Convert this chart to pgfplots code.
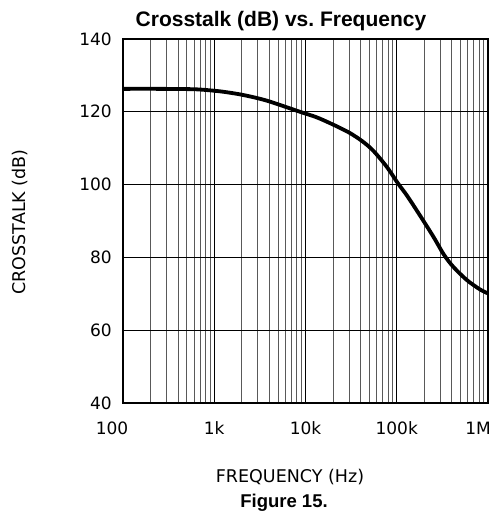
\documentclass[border=0pt]{standalone}
\usepackage{pgfplots}
\pgfplotsset{compat=1.18}
\usepackage{fontspec}
\setmainfont{DejaVu Sans}
\newfontfamily\arialfont{Liberation Sans}
\pgfplotstableread{
f db
100 126.3
250 126.3
590 126.2
890 125.9
1260 125.5
1900 124.8
2800 123.9
4070 122.8
8700 120.0
13200 118.5
20000 116.5
30000 114.3
42000 111.9
55300 109.3
77600 104.9
104000 100.2
128500 97.1
179900 91.5
251800 85.7
329600 80.7
416900 77.4
584800 73.8
816600 71.2
1000000 70.1
}\crosstalk
\begin{document}
\begin{tikzpicture}[x=1pt,y=1pt]
\useasboundingbox (0,0) rectangle (500,516);
\begin{axis}[
  at={(123pt,113pt)}, anchor=south west,
  width=365pt, height=364pt, scale only axis,
  xmode=log, log basis x=10,
  xmin=100, xmax=1000000, ymin=40, ymax=140,
  xtick={100,1000,10000,100000,1000000},
  xticklabels={\makebox[0pt]{\hspace*{-22pt}100},1k,10k,100k,\makebox[0pt]{\hspace*{-20pt}1M}},
  minor xtick={200,300,400,500,600,700,800,900,2000,3000,4000,5000,6000,7000,8000,9000,20000,30000,40000,50000,60000,70000,80000,90000,200000,300000,400000,500000,600000,700000,800000,900000},
  ytick={40,60,80,100,120,140},
  yticklabels={40,60,80,100,120,140},
  major tick length=0pt, minor tick length=0pt,
  xmajorgrids, xminorgrids, ymajorgrids,
  major grid style={black, line width=0.9pt},
  minor grid style={black!65, line width=0.8pt},
  axis line style={line width=1.6pt},
  tick label style={font=\fontsize{17}{17}\selectfont},
  xticklabel style={anchor=base, inner sep=0pt, yshift=-32pt},
  yticklabel style={anchor=east, inner sep=0pt, xshift=-11pt},
]
\addplot[black, line width=3.8pt, smooth, tension=0.5] table[x=f, y=db] {\crosstalk};
\end{axis}
\node[anchor=base, font=\arialfont\bfseries\fontsize{21}{21}\selectfont] at (281,489) {Crosstalk (dB) vs.\ Frequency};
\node[anchor=base, font=\fontsize{17.5}{17.5}\selectfont] at (290,33) {FREQUENCY (Hz)};
\node[anchor=base, font=\arialfont\bfseries\fontsize{18.5}{18.5}\selectfont] at (284,9) {Figure 15.};
\node[rotate=90, font=\fontsize{17.5}{17.5}\selectfont] at (20,294) {CROSSTALK (dB)};
\end{tikzpicture}
\end{document}
